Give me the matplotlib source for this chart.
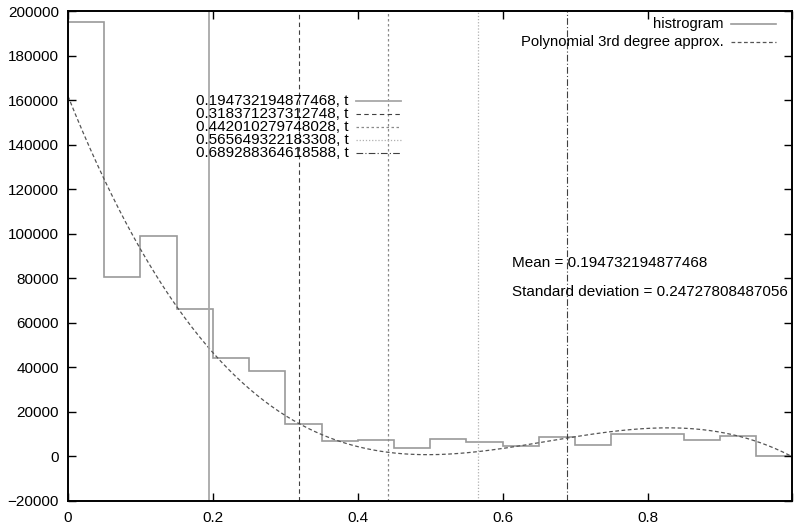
import numpy as np
import matplotlib.pyplot as plt

plt.rcParams['font.family'] = ['Liberation Sans', 'DejaVu Sans']

# histogram (20 bins of width 0.05)
bin_edges = np.linspace(0, 1, 21)
counts = [195000, 80500, 99000, 66000, 44000, 38500, 14600, 6800, 7300, 3600,
          7800, 6500, 4800, 8900, 5300, 10300, 10000, 7300, 9400, 0]

# points
curve_x = [0.0, 0.05, 0.1, 0.15, 0.195, 0.35, 0.5, 0.69, 0.82, 1.0]
curve_y = [160000, 125000, 95000, 67500, 49500, 7200, 900, 9000, 13200, -500]

vlines = [0.194732194877468, 0.318371237312748, 0.442010279748028,
          0.565649322183308, 0.689288364618588]
vline_styles = [
    dict(color='#a8a8a8', lw=1.3, ls='-'),
    dict(color='#404040', lw=0.8, ls=(0, (4, 3))),
    dict(color='#8a8a8a', lw=0.9, ls=(0, (2, 2))),
    dict(color='#b0b0b0', lw=0.9, ls=(0, (1, 1.5))),
    dict(color='#404040', lw=0.8, ls=(0, (6, 2, 1, 2))),
]
hist_style = dict(color='#9a9a9a', lw=1.2)
poly_style = dict(color='#555555', lw=0.9, ls=(0, (3, 2)))

mean = 0.194732194877468
std = 0.24727808487056

fig = plt.figure(figsize=(7.95, 5.24), dpi=100)
ax = fig.add_axes([0.0855, 0.0439, 0.9113, 0.9351])

ax.stairs(counts, bin_edges, baseline=None, **hist_style)

coef = np.polyfit(curve_x, curve_y, 3)
xs = np.linspace(0, 1, 300)
ax.plot(xs, np.polyval(coef, xs), **poly_style)

for v, st in zip(vlines, vline_styles):
    ax.axvline(v, **st)

ax.set_xlim(0, 1)
ax.set_ylim(-20000, 200000)
ax.set_xticks([0, 0.2, 0.4, 0.6, 0.8, 1.0])
ax.set_xticklabels(['0', '0.2', '0.4', '0.6', '0.8', ''])
ax.set_yticks(np.arange(-20000, 200001, 20000))
ax.tick_params(direction='in', top=True, right=True, length=6, width=1, labelsize=11)
ax.tick_params(axis='x', pad=7.5)
ax.tick_params(axis='y', pad=6.5)
for s in ax.spines.values():
    s.set_linewidth(1.4)

# key at the top right
key1 = [('histrogram', hist_style), ('Polynomial 3rd degree approx.', poly_style)]
for i, (lab, st) in enumerate(key1):
    y = 0.9735 - i * 0.0374
    ax.text(0.9045, y, lab, transform=ax.transAxes, ha='right', va='center', fontsize=10.7)
    ax.plot([0.9155, 0.9777], [y, y], transform=ax.transAxes, **st)

# key for the vertical lines
for i, (v, st) in enumerate(zip(vlines, vline_styles)):
    y = 0.8169 - i * 0.0265
    ax.text(0.3869, y, f'{v}, t', transform=ax.transAxes, ha='right', va='center', fontsize=11)
    ax.plot([0.3969, 0.4590], [y, y], transform=ax.transAxes, **st)

ax.text(0.6124, 0.4851, f'Mean = {mean}', transform=ax.transAxes, va='center', fontsize=11)
ax.text(0.6124, 0.4271, f'Standard deviation = {std}', transform=ax.transAxes,
        va='center', fontsize=11)

fig.savefig('out.png', dpi=100)
